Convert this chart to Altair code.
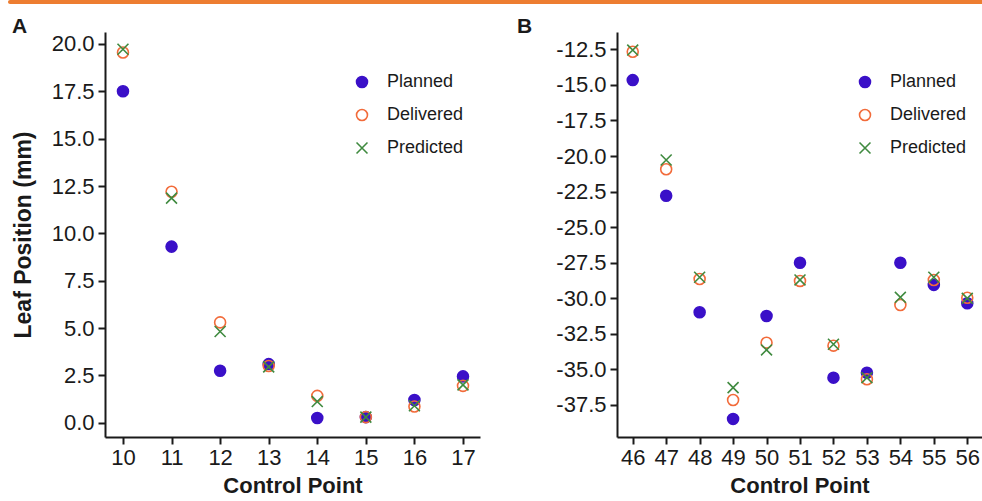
import altair as alt
import pandas as pd

series_names = ["Planned", "Delivered", "Predicted"]
series_colors = ["#3A10C8", "#F26B3A", "#3F8A3F"]

cp_a = [10, 11, 12, 13, 14, 15, 16, 17]
planned_a = [17.5, 9.3, 2.75, 3.1, 0.25, 0.3, 1.2, 2.45]
delivered_a = [19.55, 12.2, 5.3, 3.0, 1.42, 0.3, 0.86, 1.95]
predicted_a = [19.72, 11.86, 4.82, 2.95, 1.12, 0.3, 0.9, 2.0]
yticks_a = [0.0, 2.5, 5.0, 7.5, 10.0, 12.5, 15.0, 17.5, 20.0]

cp_b = [46, 47, 48, 49, 50, 51, 52, 53, 54, 55, 56]
planned_b = [-14.66, -22.79, -30.98, -38.48, -31.24, -27.5, -35.58, -35.23, -27.5, -29.06, -30.35]
delivered_b = [-12.67, -20.93, -28.64, -37.15, -33.12, -28.78, -33.33, -35.69, -30.47, -28.71, -29.96]
predicted_b = [-12.55, -20.28, -28.52, -36.28, -33.63, -28.71, -33.23, -35.58, -29.93, -28.52, -30.0]
yticks_b = [-37.5, -35.0, -32.5, -30.0, -27.5, -25.0, -22.5, -20.0, -17.5, -15.0, -12.5]

FONT = "Liberation Sans"
INK = "#1a1a1a"
XSHAPE = "M-1,-1L1,1M1,-1L-1,1"


def long_df(cp, planned, delivered, predicted):
    rows = []
    for name, vals in zip(series_names, [planned, delivered, predicted]):
        for c, v in zip(cp, vals):
            rows.append({"cp": c, "value": v, "series": name})
    return pd.DataFrame(rows)


def legend(legend_x):
    return alt.Legend(title=None, orient="none", legendX=legend_x, legendY=41,
                      labelFontSize=18, labelColor=INK, labelFont=FONT,
                      symbolSize=120, symbolStrokeWidth=1.6, rowPadding=15,
                      labelOffset=16)


def panel(df, cp, yticks, xdom, ydom, width, height, ytitle, letter, letter_x, legend_x, bar=False):
    xaxis = alt.Axis(values=cp, title="Control Point", titleFontSize=22, titleFontWeight="bold",
                     titleColor=INK, labelFontSize=22, labelColor=INK, tickSize=7, tickWidth=2,
                     tickColor=INK, domainColor=INK, domainWidth=2, grid=False, labelPadding=3,
                     titlePadding=7, labelFlush=False)
    yaxis_kwargs = dict(values=yticks, labelFontSize=22, labelColor=INK, tickSize=7, tickWidth=2,
                        tickColor=INK, domainColor=INK, domainWidth=2, grid=False, labelPadding=4,
                        labelFlush=False,
                        labelExpr="replace(format(datum.value, '.1f'), '\u2212', '-')")
    if ytitle:
        yaxis = alt.Axis(title=ytitle, titleFontSize=23, titleFontWeight="bold", titleColor=INK,
                         titlePadding=16, **yaxis_kwargs)
    else:
        yaxis = alt.Axis(title=None, **yaxis_kwargs)

    pts = alt.Chart(df).mark_point(size=120, strokeWidth=1.6, opacity=1).encode(
        x=alt.X("cp:Q", scale=alt.Scale(domain=xdom, nice=False, zero=False), axis=xaxis),
        y=alt.Y("value:Q", scale=alt.Scale(domain=ydom, nice=False, zero=False), axis=yaxis),
        stroke=alt.Stroke("series:N", scale=alt.Scale(domain=series_names, range=series_colors),
                          legend=legend(legend_x)),
        fill=alt.Fill("series:N", scale=alt.Scale(domain=series_names,
                                                  range=[series_colors[0], "transparent", "transparent"]),
                      legend=legend(legend_x)),
        shape=alt.Shape("series:N", scale=alt.Scale(domain=series_names,
                                                    range=["circle", "circle", XSHAPE]),
                        legend=legend(legend_x)),
        order=alt.Order("series_order:Q"),
    ).transform_calculate(
        series_order="indexof(['Planned','Delivered','Predicted'], datum.series)"
    )

    lab = alt.Chart(pd.DataFrame({"t": [letter]})).mark_text(
        font=FONT, fontSize=21, fontWeight="bold", color=INK, align="left", baseline="alphabetic"
    ).encode(text="t:N", x=alt.value(letter_x), y=alt.value(1))

    layers = [pts, lab]
    if bar:
        topbar = alt.Chart(pd.DataFrame({"t": [0]})).mark_rect(
            color="#ED7D31", cornerRadiusBottomLeft=4, cornerRadiusTopLeft=2
        ).encode(x=alt.value(-97), x2=alt.value(877), y=alt.value(-32), y2=alt.value(-28))
        layers = [topbar] + layers
    return alt.layer(*layers).properties(width=width, height=height)


df_a = long_df(cp_a, planned_a, delivered_a, predicted_a)
df_b = long_df(cp_b, planned_b, delivered_b, predicted_b)

chart_a = panel(df_a, cp_a, yticks_a, [9.63, 17.35], [-0.75, 20.63], 375, 405,
                "Leaf Position (mm)", "A", -93, 248, bar=True)
chart_b = panel(df_b, cp_b, yticks_b, [45.53, 56.44], [-39.75, -11.28], 365, 405,
                None, "B", -100, 239)

chart = alt.hconcat(chart_a, chart_b, spacing=137, bounds="flush").resolve_scale(
    stroke="independent", fill="independent", shape="independent"
).resolve_legend(
    stroke="independent", fill="independent", shape="independent"
).properties(
    padding={"left": 8, "top": 0, "right": 0, "bottom": 0}, background="white"
).configure(font=FONT).configure_view(strokeWidth=0)

chart.save("out.html", embed_options={"renderer": "svg", "actions": False})
